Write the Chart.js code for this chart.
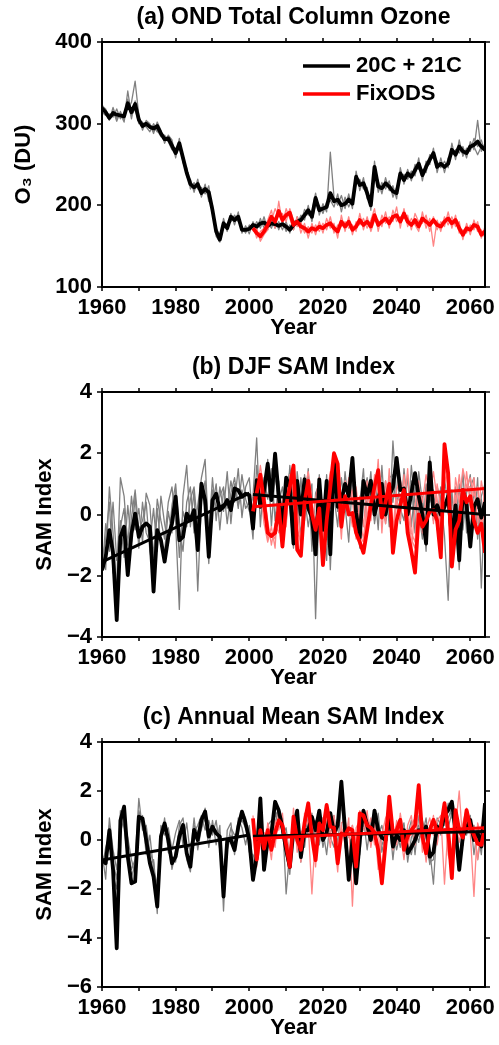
<!DOCTYPE html>
<html>
<head>
<meta charset="utf-8">
<script src="https://cdn.jsdelivr.net/npm/chart.js@4.4.0/dist/chart.umd.min.js"></script>
<style>
  html, body { margin: 0; padding: 0; background: #fff; overflow: hidden; }
  .panel { position: absolute; left: 0; width: 499px; height: 350px; }
</style>
</head>
<body>
<div class="panel" style="top:0"><canvas id="chart-a" width="499" height="350"></canvas></div>
<div class="panel" style="top:350px"><canvas id="chart-b" width="499" height="350"></canvas></div>
<div class="panel" style="top:700px"><canvas id="chart-c" width="499" height="350"></canvas></div>
<script>
const FONT = '"Liberation Sans", Arial, Helvetica, sans-serif';
const histStart = 1960;   // 20C + 21C runs start here
const fixStart = 2001;    // FixODS runs start here
const decadeTicks = [1960, 1970, 1980, 1990, 2000, 2010, 2020, 2030, 2040, 2050, 2060];
const yearLabels = [1960, 1980, 2000, 2020, 2040, 2060];
const legendLabels = ['20C + 21C', 'FixODS'];

// ---- (a) OND total column ozone (DU)
const ozoneMean = [
  319, 314, 307, 313, 311, 310, 309, 325, 314, 324,
  305, 297, 300, 296, 294, 297, 288, 281, 282, 273,
  264, 276, 258, 240, 226, 222, 226, 215, 220, 216,
  194, 168, 158, 178, 172, 186, 182, 186, 170, 170,
  171, 176, 174, 178, 179, 175, 178, 177, 175, 177,
  174, 170, 176, 180, 182, 188, 194, 186, 209, 194,
  196, 198, 215, 205, 207, 200, 202, 207, 202, 235,
  225, 227, 215, 200, 247, 223, 221, 227, 223, 217,
  215, 239, 231, 239, 235, 243, 251, 237, 247, 256,
  264, 247, 251, 247, 251, 268, 262, 272, 266, 264,
  272, 274, 278, 272, 268];
const ozoneRun1 = [
  322, 318, 305, 316, 303, 315, 305, 340, 310, 318,
  300, 302, 296, 290, 300, 292, 284, 286, 278, 268,
  270, 268, 262, 235, 232, 216, 232, 210, 226, 205,
  200, 162, 155, 184, 168, 190, 176, 192, 166, 175,
  165, 180, 170, 184, 172, 180, 172, 184, 170, 182,
  168, 176, 170, 186, 178, 195, 188, 192, 215, 188,
  202, 192, 265, 210, 200, 212, 196, 214, 196, 242,
  218, 234, 208, 206, 240, 230, 214, 234, 218, 224,
  208, 246, 226, 244, 230, 250, 244, 244, 240, 262,
  258, 254, 246, 254, 246, 276, 256, 280, 260, 270,
  266, 282, 272, 280, 264];
const ozoneRun2 = [
  314, 310, 312, 308, 318, 306, 314, 318, 326, 352,
  310, 292, 304, 300, 288, 302, 292, 276, 286, 280,
  258, 282, 252, 246, 220, 228, 220, 222, 214, 224,
  190, 172, 164, 172, 178, 180, 188, 180, 174, 166,
  176, 170, 180, 172, 186, 170, 184, 172, 180, 170,
  180, 166, 182, 176, 188, 182, 200, 180, 202, 200,
  190, 204, 206, 198, 214, 192, 210, 198, 208, 226,
  232, 220, 222, 194, 254, 216, 228, 220, 230, 210,
  222, 232, 238, 232, 242, 236, 258, 230, 254, 250,
  270, 240, 258, 240, 258, 262, 268, 264, 272, 258,
  278, 268, 304, 266, 276];
const ozoneRun3 = [
  324, 312, 304, 320, 306, 312, 302, 330, 306, 328,
  302, 300, 296, 298, 296, 290, 290, 284, 278, 276,
  262, 272, 262, 238, 228, 220, 228, 212, 222, 212,
  196, 170, 158, 180, 170, 184, 180, 188, 168, 172,
  172, 178, 172, 176, 180, 176, 180, 174, 176, 178,
  176, 172, 174, 180, 184, 186, 192, 188, 206, 196,
  194, 200, 210, 206, 204, 202, 200, 210, 202, 232,
  226, 224, 216, 202, 244, 222, 220, 226, 222, 218,
  216, 236, 230, 240, 234, 244, 250, 238, 246, 254,
  262, 248, 250, 248, 250, 266, 262, 270, 266, 266,
  270, 272, 262, 272, 268];
const ozoneFixMean = [
  172, 166, 162, 168, 176, 186, 180, 193, 182, 188,
  191, 176, 180, 174, 172, 168, 172, 170, 174, 172,
  176, 178, 172, 168, 180, 174, 180, 170, 174, 182,
  176, 180, 174, 188, 176, 180, 184, 178, 186, 188,
  180, 190, 180, 176, 182, 174, 184, 180, 176, 182,
  176, 174, 180, 184, 178, 182, 172, 164, 172, 170,
  176, 174, 164, 168];
const ozoneFix1 = [
  176, 160, 168, 172, 182, 194, 172, 205, 176, 196,
  184, 170, 186, 166, 178, 160, 178, 164, 180, 166,
  184, 172, 178, 160, 188, 168, 186, 164, 180, 176,
  184, 172, 182, 196, 168, 188, 178, 186, 180, 198,
  172, 196, 174, 184, 176, 168, 192, 172, 184, 150,
  182, 168, 186, 176, 186, 174, 180, 158, 178, 164,
  182, 168, 170, 160];
const ozoneFix2 = [
  168, 172, 156, 164, 170, 180, 196, 186, 190, 180,
  196, 182, 174, 180, 166, 174, 166, 176, 168, 178,
  170, 186, 166, 176, 174, 180, 172, 176, 168, 190,
  170, 186, 168, 182, 182, 174, 192, 172, 194, 180,
  186, 184, 188, 170, 190, 180, 178, 188, 168, 186,
  170, 180, 174, 192, 172, 188, 166, 170, 166, 176,
  170, 180, 160, 174];
const ozoneFix3 = [
  172, 168, 164, 168, 178, 186, 176, 190, 180, 190,
  192, 174, 180, 176, 172, 170, 174, 170, 174, 172,
  176, 176, 174, 170, 178, 176, 180, 172, 176, 180,
  176, 182, 174, 186, 178, 180, 182, 178, 184, 186,
  182, 188, 180, 176, 180, 176, 182, 180, 178, 182,
  178, 176, 180, 182, 178, 180, 174, 166, 172, 172,
  176, 174, 166, 170];

// ---- (b) DJF SAM index
const djfMean = [
  -1.82, -1.38, -0.51, -1.27, -3.45, -0.73, -0.40, -1.98, -0.62, 0.03,
  -0.73, -0.40, -0.29, -0.40, -2.52, -0.51, -0.84, -1.54, -0.73, -0.29,
  0.58, -0.84, -0.73, 0.03, -0.18, 0.14, -1.16, 1.01, 0.47, -1.38,
  0.47, 0.68, 0.14, 0.25, 0.47, 0.14, 0.85, 0.79, 0.58, 0.68,
  0.63, -0.46, 1.12, 0.25, 0.79, 1.66, 0.47, 1.99, 0.6, -0.5,
  1.2, 0.9, -0.95, 1.1, 0.0, 1.15, 0.2, -0.1, -1.3, 1.15,
  -0.5, 1.1, -1.3, 1.75, 0.25, 0.45, 1.0, 0.6, 1.85, 0.05,
  -0.75, 1.1, 0.6, 1.1, 0.0, 0.5, 1.0, 0.0, 0.6, 0.9,
  1.85, 0.8, 0.85, 0.0, 0.7, 1.35, 0.6, 0.0, -0.95, 1.7,
  0.0, 0.3, 0.0, 0.25, 0.6, -0.75, 0.3, -1.5, 0.8, 0.3,
  -1.05, 0.25, 0.5, -0.1, 0.4];
const djfRun1 = [
  -1.6, -0.8, 0.4, -1.9, -2.2, 1.2, 0.6, -1.0, 0.6, -0.5,
  0.2, -0.9, 0.7, 0.3, -1.4, 0.5, -0.2, -0.8, 0.4, 0.9,
  -0.3, -3.1, 0.6, 1.6, -0.4, 0.8, -2.5, 0.4, 1.1, -0.6,
  1.2, -0.2, 0.9, 0.1, 1.4, -0.3, 1.0, 0.2, 1.3, 0.5,
  0.1, 0.6, 2.5, -0.4, 1.2, 0.5, 1.5, -0.2, 1.1, -0.6,
  0.8, 1.4, -0.5, 0.9, -0.8, 1.3, 0.3, 1.0, -3.4, 0.6,
  -0.9, 1.3, -1.8, 1.2, 0.9, -0.3, 1.4, 0.2, 1.6, -0.5,
  0.4, 1.5, -0.6, 0.8, -0.2, 1.3, 0.3, 1.1, -0.4, 2.4,
  0.6, -0.3, 1.5, 0.2, 1.1, -0.6, 1.4, 0.4, -1.2, 1.3,
  -0.2, 0.9, 0.5, -0.7, -2.8, 0.8, -0.9, 1.0, -0.5, 0.7,
  1.3, -0.4, 1.2, -2.4, 0.6];
const djfRun2 = [
  -2.0, -0.3, -1.2, 0.4, -1.5, -0.2, -1.4, 0.3, -0.9, 0.6,
  -1.1, 0.4, -0.6, -0.9, 0.2, -1.2, 0.6, -0.3, -1.0, 0.3,
  1.0, -0.5, -1.2, 0.4, 0.9, -0.6, 0.3, 1.2, 1.8, -0.8,
  0.3, 1.0, -0.5, 0.8, 0.2, 1.1, 0.4, 1.5, -0.1, 0.9,
  1.2, -0.3, 0.8, 1.0, 0.1, 1.8, -0.4, 1.3, 0.4, 0.9,
  -0.3, 1.6, 0.4, -0.6, 1.2, -0.2, 1.5, -1.2, 0.7, 1.0,
  0.2, -1.5, 1.3, 0.6, -0.4, 1.2, 0.3, -0.9, 1.1, 0.5,
  -1.1, 0.7, 1.2, 0.1, 0.9, -0.5, 1.6, -0.3, 1.0, 0.4,
  1.5, 0.2, -0.2, 1.3, -0.4, 0.9, 0.1, -0.8, 1.0, 0.4,
  0.8, -0.5, 0.6, 1.2, 0.2, -1.3, 0.9, -0.2, 1.4, -0.6,
  0.9, 1.2, -0.8, 0.6, 1.0];
const djfRun3 = [
  -1.4, -1.8, 0.9, -0.6, -3.0, -0.4, 0.2, -1.6, -0.1, 0.8,
  -0.5, -0.2, 0.4, -1.2, -1.9, 0.2, -1.0, -1.2, 0.1, -0.6,
  0.8, -1.4, 0.1, -0.4, 0.5, 0.9, -0.4, 0.9, 0.2, -1.6,
  0.8, 0.2, 0.6, 0.9, -0.3, 0.7, 1.2, 0.3, 0.8, 0.2,
  0.4, -0.8, 1.6, 0.5, 0.3, 1.2, 0.9, 1.7, -0.1, 0.3,
  1.1, 0.2, -1.1, 1.4, 0.3, 0.6, -0.4, 0.4, -1.0, 1.3,
  -0.2, 0.7, -0.8, 1.9, 0.1, 0.7, 0.8, 1.0, 1.2, 0.2,
  -0.4, 0.8, 0.3, 1.4, -0.3, 0.6, 0.9, -0.2, 1.2, 1.3,
  0.2, 1.1, 0.4, -0.3, 1.6, 0.3, -0.2, 0.6, -0.7, 1.9,
  0.3, -0.1, 0.9, 0.1, 0.8, -0.4, 0.5, -1.8, 0.6, 0.1,
  -0.6, 0.8, 0.2, 0.5, -0.9];
const djfFixMean = [
  0.1, 0.7, 1.3, 0.4, -0.6, -0.7, -0.6, 0.25, -1.05, 0.3,
  0.9, 1.6, -1.15, -1.35, 0.4, 1.1, 0.0, -0.5, 0.2, -1.65,
  -0.2, 0.9, 2.0, 1.65, -0.4, 0.6, 0.0, 0.05, -0.6, -0.9,
  -1.25, -0.5, 0.3, 0.9, 1.45, -0.1, 0.4, 1.0, -1.25, -0.2,
  0.3, 0.8, -0.6, -1.2, -1.9, 0.0, -0.4, -0.2, 0.1, 0.15,
  -0.2, -1.4, 2.3, 1.35, -1.7, -0.5, -0.2, 0.8, 0.4, 0.6,
  -0.2, -0.6, -0.3, -1.25];
const djfFix1 = [
  0.5, 1.2, 0.8, -0.3, -0.9, -0.4, -1.1, 0.9, -0.5, 1.1,
  0.3, 1.3, -0.6, -0.8, 1.0, 0.6, -0.4, 0.5, 1.2, -1.0,
  0.6, 1.4, 1.2, 0.8, -0.8, 1.1, 0.3, -0.4, 0.9, -0.2,
  -0.8, 0.4, 1.0, 0.3, 1.8, -0.6, 1.1, 0.5, -0.5, 0.8,
  1.2, 0.2, 1.5, -0.6, -0.9, 0.9, 0.4, 1.3, 0.6, 1.4,
  0.5, -0.7, 1.7, 0.9, -0.8, 1.2, 0.4, 1.5, 0.9, 1.2,
  0.6, 0.9, -0.4, 1.0];
const djfFix2 = [
  -0.3, 0.6, 1.6, 0.8, -0.2, -1.0, -0.3, -0.6, 0.5, -0.4,
  1.3, 0.7, 0.2, -0.9, 0.8, 1.4, 0.5, -0.9, 0.6, -0.6,
  0.9, 0.2, 1.6, 1.0, 0.4, 0.2, 1.2, 0.5, -0.8, 0.6,
  -0.4, 1.1, -0.2, 1.3, 0.7, 0.4, -0.3, 1.5, -0.9, 0.5,
  -0.2, 1.3, 0.1, -1.2, 0.3, 1.1, -0.6, 0.7, 1.5, -0.3,
  1.0, 0.2, 1.0, 1.6, -0.6, 0.2, 1.3, 0.1, 1.4, 0.3,
  1.2, -0.3, 1.1, 0.4];
const djfFix3 = [
  0.2, 0.9, 1.1, 0.2, -0.8, -0.6, -0.8, 0.4, -0.9, 0.6,
  0.7, 1.0, -0.4, -1.0, 0.5, 0.9, 0.3, -0.2, 0.5, -1.1,
  0.2, 0.6, 1.5, 1.2, 0.1, 0.5, 0.4, 0.8, -0.2, -0.7,
  -0.9, 0.0, 0.6, 0.9, 1.2, 0.3, 0.7, 0.6, -0.6, 0.4,
  0.6, 0.7, 0.2, -0.8, -1.1, 0.5, 0.1, 0.3, 0.8, 0.7,
  0.4, -0.6, 1.5, 1.2, -1.0, 0.6, 0.8, 0.7, 0.9, 0.9,
  0.3, 0.5, -0.5, 0.2];
const djfTrendHist = [-1.55, 0.70];   // 1960 -> 2000
const djfTrendFut = [0.65, 0.00];     // 2001 -> 2064
const djfTrendFix = [0.25, 0.85];     // 2001 -> 2064

// ---- (c) annual mean SAM index
const annMean = [
  -0.82, -0.95, 0.4, -1.22, -4.42, 0.8, 1.36, -0.68, -1.77, -1.7,
  0.95, 0.88, 0.0, -0.95, -1.5, -2.72, 0.14, 0.68, 0.0, -0.95,
  -0.68, 0.14, 0.61, -0.54, -1.09, 0.41, 0.0, 0.82, 1.16, 0.14,
  0.54, 0.27, 0.14, -2.31, 0.0, 0.0, -0.41, 0.54, 1.16, 0.68,
  0.0, -1.63, -0.68, 1.7, -1.22, 0.0, 0.27, 1.56, 1.2, 0.5,
  -0.4, -1.1, 0.4, 1.2, -0.7, 0.4, 0.4, 0.95, 0.4, 1.2,
  0.0, 0.3, 1.1, 0.3, 0.6, 2.38, 0.4, -1.63, 0.0, -1.77,
  0.0, 1.2, 0.6, 0.0, 1.2, 0.4, 0.1, 0.0, 1.1, -0.27,
  0.2, 0.0, 0.4, -0.54, -0.3, 0.0, 0.4, 0.3, 0.55, -0.68,
  -0.5, 0.55, 0.4, 1.0, 1.22, 1.56, 0.4, -1.22, 0.14, 0.5,
  0.82, 0.0, 0.3, -0.27, 1.5];
const annRun1 = [
  -0.5, -1.6, 0.9, -0.4, -1.2, 0.3, 0.9, -0.3, -1.2, -0.8,
  1.7, 0.4, 0.6, -0.5, -0.9, -3.0, 0.6, 0.2, 0.5, -0.4,
  0.3, 0.8, -0.2, 0.7, -0.6, 0.9, -0.4, 0.5, 0.9, -0.3,
  0.8, -0.2, 0.6, -2.9, 0.4, 0.7, -0.6, 0.9, 0.5, -0.2,
  0.6, -1.1, 0.2, 1.4, -0.7, 0.5, -0.3, 1.1, 0.6, 0.9,
  -2.2, -0.4, 0.8, 0.3, -0.9, 0.9, 0.2, 1.1, -0.5, 0.7,
  0.4, -0.6, 0.8, 1.0, -0.2, 1.4, 0.7, -1.0, 0.6, -1.2,
  0.5, 0.9, -0.4, 0.8, 0.2, 1.1, -0.5, 0.3, 0.9, -0.8,
  0.6, 0.9, -0.3, 0.2, 0.8, -0.6, 1.0, 0.2, 0.9, -0.4,
  -1.8, 0.7, 0.2, 1.3, 0.5, 1.1, -0.2, -0.9, 0.6, 0.2,
  1.0, -0.6, 0.5, 0.1, 0.8];
const annRun2 = [
  -1.2, -0.3, 0.2, -0.9, -1.6, 0.9, 0.7, 0.1, -0.8, -1.4,
  0.6, 1.0, -0.6, 0.2, -1.2, -1.8, -0.2, 0.9, -0.5, -0.7,
  -0.9, 0.6, 0.9, -0.4, -0.2, 0.3, 0.6, 1.0, 0.4, 0.8,
  0.2, 0.8, -0.4, -1.6, -0.3, 0.5, 0.2, 0.3, 1.2, 0.9,
  -0.5, -0.6, -1.0, 1.0, -0.8, 0.6, 0.8, 0.7, 1.3, 0.2,
  0.5, -0.8, 0.2, 0.9, 0.1, -0.3, 1.0, 0.3, 0.8, -0.2,
  0.9, 0.6, 0.1, -0.3, 0.9, 1.8, -0.3, -0.8, 0.4, -0.9,
  -0.6, 1.0, 0.8, -0.2, 0.9, 0.2, 0.6, -0.3, 0.5, 0.3,
  -0.4, 0.3, 0.7, -0.9, 0.1, 0.4, -0.1, 0.8, 0.2, -1.0,
  -0.3, 0.2, 0.9, 0.6, 1.5, 0.9, 0.8, -0.6, -0.2, 1.0,
  0.3, 0.6, -0.8, 0.2, 1.1];
const annRun3 = [
  -0.6, -1.0, 0.6, -1.5, -2.0, 1.2, 0.5, -0.8, -1.5, -1.0,
  1.2, 0.6, 0.3, -1.0, -0.8, -2.4, 0.3, 0.5, 0.2, -1.2,
  -0.4, 0.0, 0.5, -0.8, -1.3, 0.6, 0.3, 0.4, 1.3, 0.1,
  0.5, 0.4, 0.3, -2.0, -0.4, 0.2, -0.3, 0.6, 0.8, 0.5,
  0.3, -1.2, -0.2, 1.5, -1.0, -0.3, 0.5, 1.2, 0.9, 0.3,
  -0.6, -1.4, 0.6, 1.0, -0.4, 0.6, 0.5, 0.7, 0.2, 0.9,
  -0.3, 0.5, 0.9, 0.2, 0.4, 2.0, 0.6, -1.3, -0.3, -1.4,
  0.3, 0.6, 0.4, 0.3, 1.0, 0.7, -0.2, 0.2, 0.7, 0.1,
  0.4, -0.3, 0.6, -0.2, -0.6, 0.3, 0.6, -0.1, 0.4, -0.9,
  -0.8, 0.9, 0.6, 0.7, 0.9, 1.3, 0.1, -1.0, 0.4, 0.5,
  0.6, 0.2, 0.4, -0.6, 1.2];
const annFixMean = [
  0.88, -0.8, 0.4, -0.35, 0.4, -0.4, 0.3, 0.8, 0.6, -0.2,
  -1.1, 0.95, 0.0, -0.4, 0.7, 1.5, 0.14, -0.82, 0.68, 0.4,
  1.43, 0.54, 0.5, -0.95, 0.27, 0.2, 0.48, 0.4, -1.09, 1.09,
  1.0, 0.6, 0.5, 0.3, -0.4, -1.77, -0.14, 1.77, 0.27, 0.4,
  0.82, -0.4, 0.14, 0.4, 0.6, 2.24, 0.14, -0.54, 0.4, 0.82,
  0.34, 0.5, 1.5, 0.4, -1.56, 1.22, 0.4, 0.1, 1.22, 0.54,
  0.2, -0.15, -0.2, 0.54];
const annFix1 = [
  0.6, -0.5, 0.9, -0.9, 0.7, 0.1, -0.3, 1.2, 0.3, 0.2,
  -0.6, 0.5, 0.8, -0.9, 1.1, 0.6, -2.2, 0.4, 0.2, 0.9,
  0.8, -0.3, 1.0, -0.4, 0.6, -0.2, 0.9, -2.7, 0.5, 0.8,
  0.4, 1.2, -0.3, 0.7, -1.2, 0.2, 0.9, 1.2, -0.4, 0.8,
  0.3, -0.8, 0.6, 1.0, -0.2, 1.4, -0.5, 0.4, 0.9, 0.2,
  0.8, 1.0, -1.8, 0.6, -0.9, 0.5, 2.0, -0.2, 0.9, 0.3,
  -2.3, 0.7, 0.2, -0.4];
const annFix2 = [
  1.0, -1.1, -0.2, 0.3, 0.2, -0.8, 0.8, 0.4, 1.1, -0.6,
  -0.8, 1.3, -0.5, 0.3, 0.5, 1.2, 0.4, -1.1, 0.9, 0.0,
  1.0, 0.9, 0.2, -1.3, 0.7, 0.8, 0.1, 0.6, -0.7, 1.2,
  0.7, 0.3, 0.9, -0.2, 0.4, -1.3, 0.5, 1.5, 0.6, -0.2,
  1.1, 0.1, -0.4, 0.6, 0.9, 1.6, 0.5, -0.9, 0.2, 1.0,
  -0.2, 0.8, 1.2, -0.6, -1.1, 0.8, -0.1, 0.7, 1.3, 0.8,
  0.5, -0.8, 0.6, 0.9];
const annFix3 = [
  0.7, -0.6, 0.3, -0.2, 0.5, -0.4, 0.0, 0.7, 0.5, 0.1,
  -1.0, 0.7, 0.2, -0.2, 0.4, 1.2, 0.3, -0.6, 0.5, 0.6,
  1.1, 0.3, 0.7, -0.7, 0.4, 0.4, 0.3, 0.2, -0.8, 0.8,
  0.8, 0.5, 0.2, 0.5, -0.6, -1.2, 0.2, 1.4, 0.1, 0.6,
  0.6, -0.3, 0.4, 0.2, 0.5, 1.7, 0.3, -0.4, 0.6, 0.5,
  0.4, 0.6, 1.1, 0.3, -1.2, 1.0, 0.6, 0.2, 1.0, 0.6,
  0.1, 0.2, 0.1, 0.6];
const annTrendHist = [-0.82, 0.20];   // 1960 -> 2000
const annTrendFut = [0.15, 0.35];     // 2001 -> 2064
const annTrendFix = [0.05, 0.50];     // 2001 -> 2064

const trendHistYears = [1960, 2000];
const trendFutYears = [2001, 2064];

const GRAY = '#808080';
const PINK = '#ff8585';
const RED = '#ff0000';

function series(values, start, color, width, order) {
    return {
        data: values.map((v, i) => ({ x: start + i, y: v })),
        borderColor: color,
        borderWidth: width,
        borderJoinStyle: 'round',
        pointRadius: 0,
        order,
    };
}

function trend(years, values, color, order) {
    return {
        data: years.map((t, i) => ({ x: t, y: values[i] })),
        borderColor: color,
        borderWidth: 3,
        pointRadius: 0,
        order,
    };
}

// frame, outward ticks, panel title and legend
const framePlugin = {
    id: 'frame',
    afterDatasetsDraw(chart, args, opts) {
        const { ctx, chartArea: a, scales: { x, y } } = chart;
        ctx.save();
        ctx.strokeStyle = '#000';
        ctx.lineWidth = 2;
        ctx.strokeRect(a.left, a.top, a.right - a.left, a.bottom - a.top);
        ctx.beginPath();
        decadeTicks.forEach(t => {
            const px = Math.round(x.getPixelForValue(t));
            ctx.moveTo(px, a.bottom); ctx.lineTo(px, a.bottom + 4);
            ctx.moveTo(px, a.top); ctx.lineTo(px, a.top - 4);
        });
        y.ticks.forEach(t => {
            const py = Math.round(y.getPixelForValue(t.value));
            ctx.moveTo(a.left - 5, py); ctx.lineTo(a.left, py);
            ctx.moveTo(a.right, py); ctx.lineTo(a.right + 5, py);
        });
        ctx.lineWidth = 1.5;
        ctx.stroke();

        ctx.fillStyle = '#000';
        ctx.font = 'bold 23px ' + FONT;
        ctx.textAlign = 'center';
        ctx.textBaseline = 'middle';
        ctx.fillText(opts.text, (a.left + a.right) / 2, 18);

        if (opts.legend) {
            const colors = ['#000', RED];
            ctx.font = 'bold 22px ' + FONT;
            legendLabels.forEach((label, i) => {
                const ly = 66 + i * 28;
                ctx.strokeStyle = colors[i];
                ctx.lineWidth = 3.5;
                ctx.beginPath();
                ctx.moveTo(303, ly); ctx.lineTo(350, ly);
                ctx.stroke();
                ctx.textAlign = 'left';
                ctx.fillText(label, 356, ly);
            });
        }
        ctx.restore();
    }
};

const tickFont = { family: FONT, size: 22, weight: 'bold' };

function makePanel(id, title, yTitle, yTitlePad, yMin, yMax, yStep, datasets, legend) {
    return new Chart(document.getElementById(id), {
        type: 'line',
        data: { datasets },
        plugins: [framePlugin],
        options: {
            responsive: false,
            animation: false,
            events: [],
            layout: { padding: { top: 42, right: 14, bottom: 0, left: 0 } },
            plugins: {
                legend: { display: false },
                tooltip: { enabled: false },
                frame: { text: title, legend },
            },
            scales: {
                x: {
                    type: 'linear',
                    min: 1960,
                    max: 2064,
                    grid: { display: false, drawTicks: false },
                    border: { display: false },
                    afterBuildTicks: s => { s.ticks = yearLabels.map(v => ({ value: v })); },
                    afterFit: s => { s.height = 63; s.paddingLeft = 0; s.paddingRight = 0; },
                    ticks: { color: '#000', font: tickFont, padding: 8, maxRotation: 0, autoSkip: false, callback: v => String(v) },
                    title: { display: true, text: 'Year', color: '#000', font: tickFont, padding: { top: 0, bottom: 9 } },
                },
                y: {
                    min: yMin,
                    max: yMax,
                    grid: { display: false, drawTicks: false },
                    border: { display: false },
                    afterFit: s => { s.width = 102; s.paddingTop = 0; s.paddingBottom = 0; },
                    ticks: { stepSize: yStep, color: '#000', font: tickFont, padding: 10, callback: v => v < 0 ? '\u2212' + Math.abs(v) : String(v) },
                    title: { display: true, text: yTitle, color: '#000', font: tickFont, padding: { top: yTitlePad, bottom: 0 } },
                },
            },
        },
    });
}

makePanel('chart-a', '(a) OND Total Column Ozone', 'O\u2083 (DU)', 11, 100, 400, 100, [
    series(ozoneRun1, histStart, GRAY, 1.3, 8),
    series(ozoneRun2, histStart, GRAY, 1.3, 8),
    series(ozoneRun3, histStart, GRAY, 1.3, 8),
    series(ozoneFix1, fixStart, PINK, 1.3, 7),
    series(ozoneFix2, fixStart, PINK, 1.3, 7),
    series(ozoneFix3, fixStart, PINK, 1.3, 7),
    series(ozoneMean, histStart, '#000', 3.8, 5),
    series(ozoneFixMean, fixStart, RED, 3.8, 4),
], true);

makePanel('chart-b', '(b) DJF SAM Index', 'SAM Index', 32, -4, 4, 2, [
    series(djfRun1, histStart, GRAY, 1.3, 8),
    series(djfRun2, histStart, GRAY, 1.3, 8),
    series(djfRun3, histStart, GRAY, 1.3, 8),
    series(djfFix1, fixStart, PINK, 1.3, 7),
    series(djfFix2, fixStart, PINK, 1.3, 7),
    series(djfFix3, fixStart, PINK, 1.3, 7),
    series(djfMean, histStart, '#000', 3.8, 5),
    series(djfFixMean, fixStart, RED, 3.8, 4),
    trend(trendHistYears, djfTrendHist, '#000', 3),
    trend(trendFutYears, djfTrendFut, '#000', 2),
    trend(trendFutYears, djfTrendFix, RED, 1),
], false);

makePanel('chart-c', '(c) Annual Mean SAM Index', 'SAM Index', 32, -6, 4, 2, [
    series(annRun1, histStart, GRAY, 1.3, 8),
    series(annRun2, histStart, GRAY, 1.3, 8),
    series(annRun3, histStart, GRAY, 1.3, 8),
    series(annFix1, fixStart, PINK, 1.3, 7),
    series(annFix2, fixStart, PINK, 1.3, 7),
    series(annFix3, fixStart, PINK, 1.3, 7),
    series(annMean, histStart, '#000', 3.8, 5),
    series(annFixMean, fixStart, RED, 3.8, 4),
    trend(trendHistYears, annTrendHist, '#000', 3),
    trend(trendFutYears, annTrendFut, '#000', 2),
    trend(trendFutYears, annTrendFix, RED, 1),
], false);
</script>
</body>
</html>
